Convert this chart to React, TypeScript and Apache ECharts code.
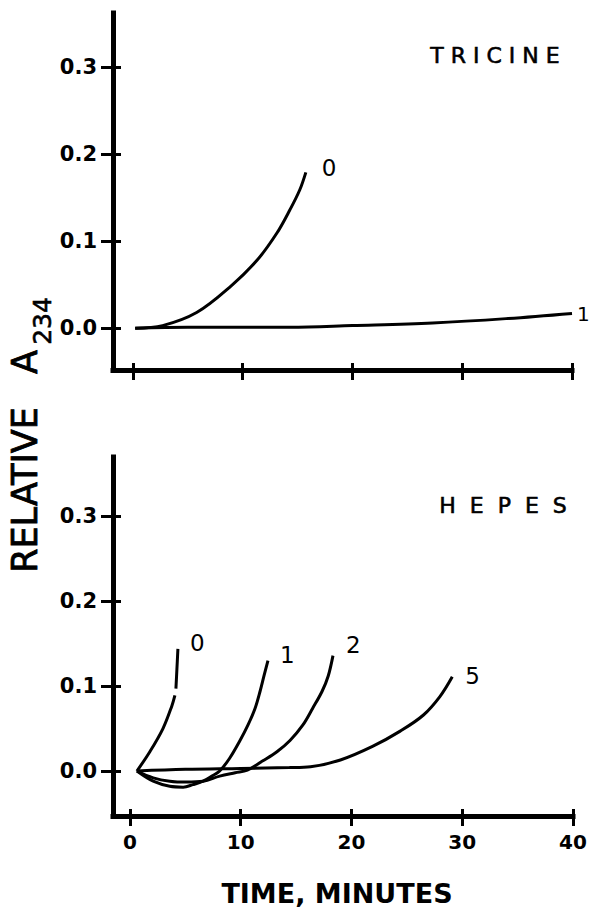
import React, { useEffect, useRef } from "react";
import * as echarts from "echarts";

// ---- data (time in minutes, relative A234) ----
const xTickValues = [0, 10, 20, 30, 40];
const yTickValues = [0, 0.1, 0.2, 0.3];

const tricineNames = ["0", "1"];
const tricine0: [number, number][] = [
  [0.2, 0], [2.7, 0.003], [5.8, 0.018], [8.8, 0.047], [11.3, 0.078], [13.1, 0.109],
  [14.3, 0.136], [15.2, 0.159], [15.75, 0.179],
];
const tricine1: [number, number][] = [
  [0.2, 0], [5, 0.001], [10, 0.001], [14.3, 0.001], [20, 0.003], [27.3, 0.006],
  [34, 0.011], [40, 0.017],
];

const hepesNames = ["0", "1", "2", "5"];
const hepes0: [number, number | string][] = [
  [0.63, 0], [1.81, 0.023], [2.98, 0.05], [3.79, 0.077], [4.06, 0.089], [4.1, "-"],
  [4.15, 0.097], [4.24, 0.12], [4.33, 0.144],
];
const hepes1: [number, number][] = [
  [0.63, 0], [2.1, -0.012], [3.6, -0.018], [4.8, -0.019], [5.7, -0.016], [6.6, -0.012],
  [7.4, -0.006], [8.1, 0], [9.0, 0.015], [9.9, 0.035], [10.65, 0.054], [11.3, 0.074],
  [11.75, 0.094], [12.1, 0.112], [12.46, 0.13],
];
const hepes2: [number, number][] = [
  [0.63, 0], [2.1, -0.008], [3.6, -0.012], [5.1, -0.013], [6.6, -0.012], [8.1, -0.006],
  [9.5, -0.002], [10.6, 0.001], [12.0, 0.012], [13.3, 0.023], [14.45, 0.036],
  [15.6, 0.054], [16.5, 0.074], [17.35, 0.094], [17.9, 0.112], [18.33, 0.136],
];
const hepes5: [number, number][] = [
  [0.63, 0], [5, 0.002], [10, 0.003], [14.4, 0.004], [16.3, 0.005], [19.0, 0.013],
  [21.9, 0.029], [24.4, 0.047], [26.5, 0.066], [28.0, 0.088], [29.1, 0.111],
];

const panelTitles = ["T R I C I N E", "H  E  P  E  S"];
const xAxisTitle = "TIME, MINUTES";

const INK = "#000";
const FONT = "DejaVu Sans";

function makeX(gridIndex: number, min: number, outer: boolean, labels: boolean) {
  return {
    gridIndex,
    type: "value",
    position: "bottom",
    min,
    max: 40,
    axisLine: { show: outer, onZero: false, lineStyle: { color: INK, width: 5, cap: "square" } },
    axisTick: {
      show: true,
      inside: !outer,
      length: outer ? 10 : 7,
      customValues: xTickValues,
      lineStyle: { color: INK, width: 3 },
    },
    axisLabel: {
      show: labels && outer,
      customValues: xTickValues,
      margin: 16,
      color: INK,
      fontSize: 20,
      fontWeight: "bold",
      fontFamily: FONT,
    },
    splitLine: { show: false },
    ...(labels && outer
      ? {
          name: xAxisTitle,
          nameLocation: "middle",
          nameGap: 64,
          nameTextStyle: {
            color: INK,
            fontSize: 27,
            fontWeight: "bold",
            fontFamily: FONT,
            padding: [0, 12, 0, 0],
          },
        }
      : {}),
  };
}

function makeY(gridIndex: number, min: number, max: number, outer: boolean) {
  return {
    gridIndex,
    type: "value",
    position: "left",
    min,
    max,
    axisLine: { show: outer, onZero: false, lineStyle: { color: INK, width: 5, cap: "square" } },
    axisTick: {
      show: true,
      inside: !outer,
      length: outer ? 12 : 8,
      customValues: yTickValues,
      lineStyle: { color: INK, width: 3 },
    },
    axisLabel: {
      show: outer,
      customValues: yTickValues,
      margin: 16,
      color: INK,
      fontSize: 21,
      fontWeight: "bold",
      fontFamily: FONT,
      formatter: (v: number) => v.toFixed(1),
    },
    splitLine: { show: false },
  };
}

function line(name: string, data: any[], xi: number, yi: number, offset: [number, number], fontSize = 23) {
  return {
    type: "line",
    name,
    data,
    xAxisIndex: xi,
    yAxisIndex: yi,
    symbol: "none",
    smooth: 0.35,
    connectNulls: false,
    lineStyle: { color: INK, width: 3 },
    endLabel: {
      show: true,
      formatter: "{a}",
      offset,
      color: INK,
      fontSize,
      fontFamily: FONT,
    },
  };
}

export default function App() {
  const ref = useRef<HTMLDivElement>(null);
  useEffect(() => {
    if (!ref.current) return;
    const chart = echarts.init(ref.current, null, { renderer: "svg" });
    chart.setOption({
      animation: false,
      backgroundColor: "#fff",
      grid: [
        { left: 113, top: 13, width: 459, height: 357 },
        { left: 113, top: 457, width: 460, height: 361 },
      ],
      xAxis: [
        makeX(0, -1.82, true, false),
        makeX(0, -1.82, false, false),
        makeX(1, -1.53, true, true),
        makeX(1, -1.53, false, true),
      ],
      yAxis: [
        makeY(0, -0.048, 0.362, true),
        makeY(0, -0.048, 0.362, false),
        makeY(1, -0.053, 0.37, true),
        makeY(1, -0.053, 0.37, false),
      ],
      series: [
        line(tricineNames[0], tricine0, 0, 0, [8, -4]),
        line(tricineNames[1], tricine1, 0, 0, [-3, 1], 20),
        line(hepesNames[0], hepes0, 2, 2, [4, -6]),
        line(hepesNames[1], hepes1, 2, 2, [4, -6]),
        line(hepesNames[2], hepes2, 2, 2, [5, -11]),
        line(hepesNames[3], hepes5, 2, 2, [5, -1]),
      ],
      graphic: [
        {
          type: "text",
          x: 495,
          y: 55,
          style: {
            text: panelTitles[0], fill: INK, stroke: INK, lineWidth: 0.6,
            fontSize: 22, fontFamily: FONT, align: "center", verticalAlign: "middle",
          },
        },
        {
          type: "text",
          x: 503,
          y: 505,
          style: {
            text: panelTitles[1], fill: INK, stroke: INK, lineWidth: 0.6,
            fontSize: 22, fontFamily: FONT, align: "center", verticalAlign: "middle",
          },
        },
        {
          type: "text",
          x: 25,
          y: 490,
          rotation: Math.PI / 2,
          style: {
            text: "RELATIVE", fill: INK, stroke: INK, lineWidth: 0.8,
            fontSize: 35, fontFamily: FONT, align: "center", verticalAlign: "middle",
          },
        },
        {
          type: "text",
          x: 25,
          y: 362,
          rotation: Math.PI / 2,
          style: {
            text: "A", fill: INK, stroke: INK, lineWidth: 0.8,
            fontSize: 35, fontFamily: FONT, align: "center", verticalAlign: "middle",
          },
        },
        {
          type: "text",
          x: 42,
          y: 321,
          rotation: Math.PI / 2,
          style: {
            text: "234", fill: INK, stroke: INK, lineWidth: 0.6,
            fontSize: 25, fontFamily: FONT, align: "center", verticalAlign: "middle",
          },
        },
      ],
    });
    return () => chart.dispose();
  }, []);
  return (
    <div
      ref={ref}
      style={{ position: "fixed", left: 0, top: 0, width: 590, height: 908, background: "#fff" }}
    />
  );
}
